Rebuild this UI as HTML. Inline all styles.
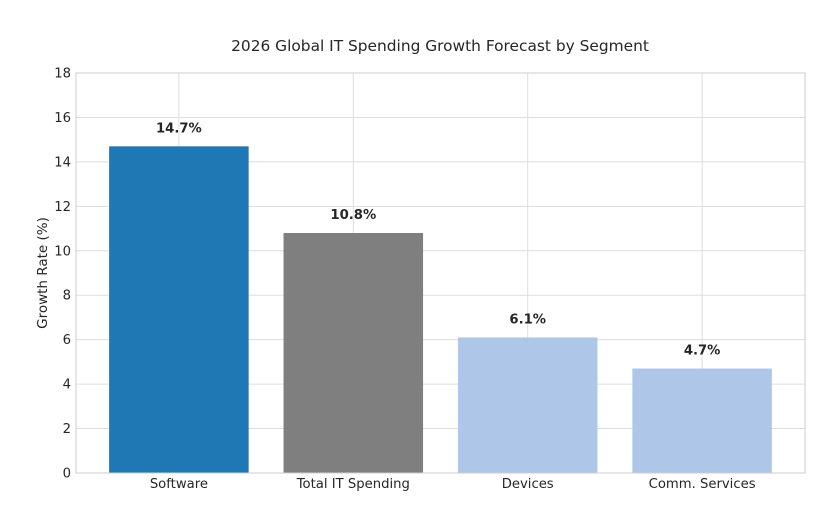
<!DOCTYPE html>
<html><head><meta charset="utf-8"><style>
body{margin:0;background:#fff;}
svg text{font-family:"DejaVu Sans","Liberation Sans",sans-serif;fill:#262626;}
</style></head><body>
<svg id="chart" width="835" height="505">
<text x="440" y="51" text-anchor="middle" font-size="15.4">2026 Global IT Spending Growth Forecast by Segment</text>
<text transform="translate(47,273) rotate(-90)" text-anchor="middle" font-size="13.5">Growth Rate (%)</text>
<g id="grid"></g><g id="bars"></g><g id="labels"></g>
<rect x="76" y="73" width="729" height="400" fill="none" stroke="#ccc" stroke-width="1"/>
</svg>
<script>
const categories=["Software","Total IT Spending","Devices","Comm. Services"];
const values=[14.7,10.8,6.1,4.7];
const valueLabels=["14.7%","10.8%","6.1%","4.7%"];
const colors=["#1f77b4","#7f7f7f","#aec7e8","#aec7e8"];
const yTicks=[0,2,4,6,8,10,12,14,16,18];
const L=76,R=805,T=73,B=473,ymax=18;
const xmin=-0.59,xmax=categories.length-1+0.59;
const y=v=>B-(v/ymax)*(B-T);
const x=i=>L+(i-xmin)/(xmax-xmin)*(R-L);
const bw=0.8*(R-L)/(xmax-xmin);
const ns="http://www.w3.org/2000/svg";
const mk=(t,a,p)=>{const e=document.createElementNS(ns,t);for(const k in a)e.setAttribute(k,a[k]);p.appendChild(e);return e;};
const g=document.getElementById('grid'),b=document.getElementById('bars'),lb=document.getElementById('labels');
yTicks.forEach(t=>{
 const l=mk('line',{x1:L,x2:R,y1:y(t),y2:y(t),stroke:'#ddd','stroke-width':1},g);
 
 
 const tx=mk('text',{x:L-5,y:y(t)+4.5,'text-anchor':'end','font-size':13.2},g);
 tx.textContent=t;
 
 
});
categories.forEach((c,i)=>{
 const l=mk('line',{x1:x(i),x2:x(i),y1:T,y2:B,stroke:'#ddd','stroke-width':1},g);
 
 
 const r=mk('rect',{x:x(i)-bw/2,y:y(values[i]),width:bw,height:B-y(values[i]),fill:colors[i]},b);
 
 
 const v=mk('text',{x:x(i),y:y(values[i])-14,'text-anchor':'middle','font-size':13.2,'font-weight':'bold'},lb);
 v.textContent=valueLabels[i];
 
 
 const xl=mk('text',{x:x(i),y:B+15,'text-anchor':'middle','font-size':13.2},lb);
 xl.textContent=c;
 
 
});
</script>
</body></html>
